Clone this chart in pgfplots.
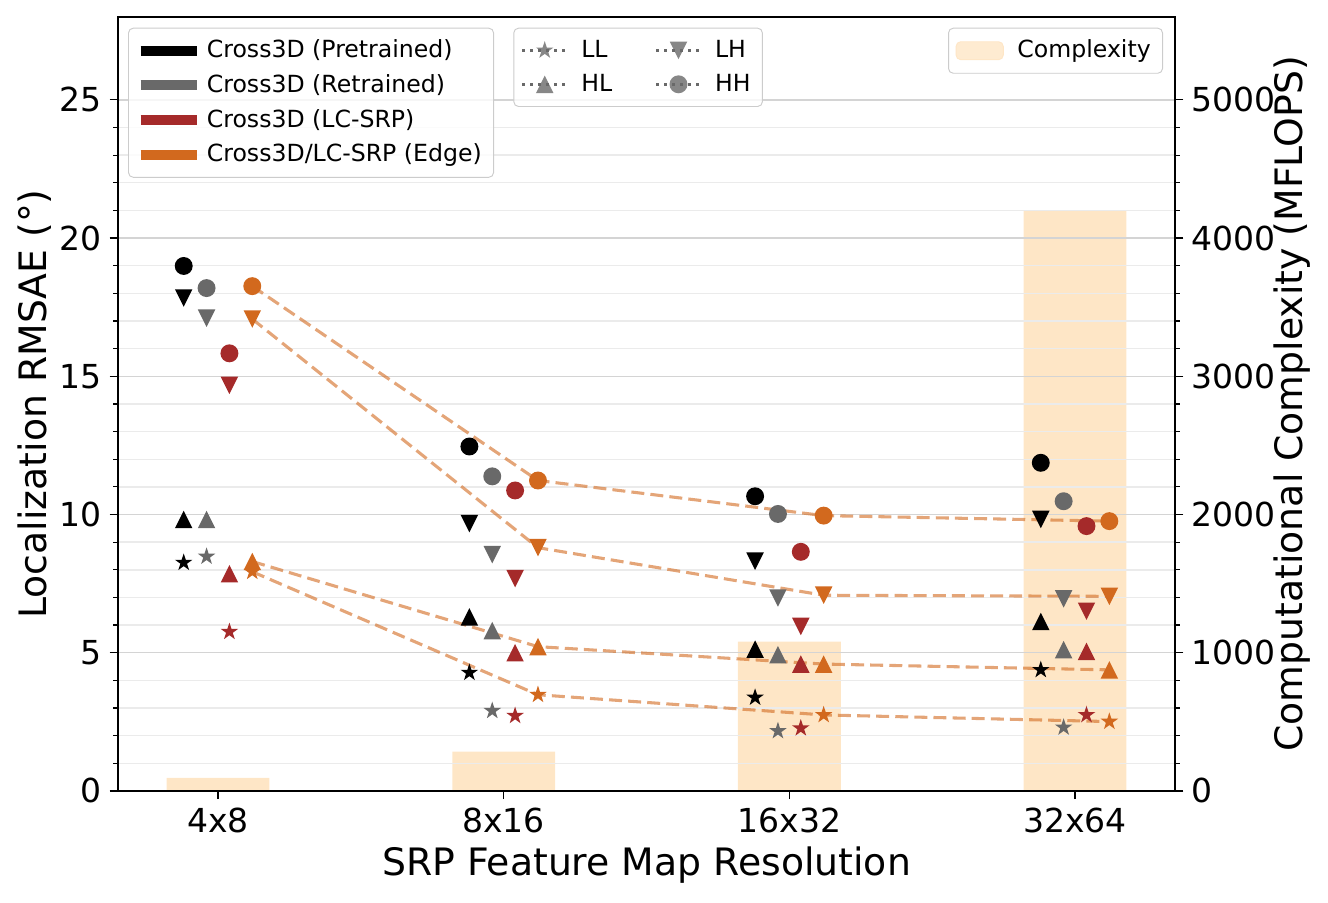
\documentclass[border=0pt]{standalone}
\usepackage{fontspec}
\setmainfont{DejaVu Sans}
\usepackage{pgfplots}
\pgfplotsset{compat=1.18}
\usepackage{pgfplotstable}

\definecolor{cgrey}{RGB}{105,105,105}
\definecolor{cred}{RGB}{165,42,42}
\definecolor{corange}{RGB}{210,105,30}
\definecolor{cpeach}{RGB}{254,230,198}

% matplotlib-like markers
\pgfdeclareplotmark{fstar}{%
  \pgfpathmoveto{\pgfqpointpolar{90}{\pgfplotmarksize}}%
  \pgfpathlineto{\pgfqpointpolar{126}{0.382\pgfplotmarksize}}%
  \pgfpathlineto{\pgfqpointpolar{162}{\pgfplotmarksize}}%
  \pgfpathlineto{\pgfqpointpolar{198}{0.382\pgfplotmarksize}}%
  \pgfpathlineto{\pgfqpointpolar{234}{\pgfplotmarksize}}%
  \pgfpathlineto{\pgfqpointpolar{270}{0.382\pgfplotmarksize}}%
  \pgfpathlineto{\pgfqpointpolar{306}{\pgfplotmarksize}}%
  \pgfpathlineto{\pgfqpointpolar{342}{0.382\pgfplotmarksize}}%
  \pgfpathlineto{\pgfqpointpolar{18}{\pgfplotmarksize}}%
  \pgfpathlineto{\pgfqpointpolar{54}{0.382\pgfplotmarksize}}%
  \pgfpathclose\pgfusepathqfill}
\pgfdeclareplotmark{tup}{%
  \pgfpathmoveto{\pgfqpoint{0pt}{\pgfplotmarksize}}%
  \pgfpathlineto{\pgfqpoint{-\pgfplotmarksize}{-\pgfplotmarksize}}%
  \pgfpathlineto{\pgfqpoint{\pgfplotmarksize}{-\pgfplotmarksize}}%
  \pgfpathclose\pgfusepathqfill}
\pgfdeclareplotmark{tdown}{%
  \pgfpathmoveto{\pgfqpoint{0pt}{-\pgfplotmarksize}}%
  \pgfpathlineto{\pgfqpoint{-\pgfplotmarksize}{\pgfplotmarksize}}%
  \pgfpathlineto{\pgfqpoint{\pgfplotmarksize}{\pgfplotmarksize}}%
  \pgfpathclose\pgfusepathqfill}
\pgfdeclareplotmark{fcirc}{%
  \pgfpathcircle{\pgfpointorigin}{\pgfplotmarksize}%
  \pgfusepathqfill}

% RMSAE per model: x = resolution index
\pgfplotstableread{
x LL   HL   LH    HH
0 8.26 9.82 17.83 18.99
1 4.28 6.30 9.67  12.46
2 3.38 5.13 8.31  10.66
3 4.38 6.13 9.82  11.87
}\pre
\pgfplotstableread{
x LL   HL   LH    HH
0 8.48 9.82 17.10 18.19
1 2.90 5.80 8.55  11.38
2 2.17 4.93 6.98  10.02
3 2.30 5.11 6.95  10.48
}\ret
\pgfplotstableread{
x LL   HL   LH    HH
0 5.76 7.86 14.67 15.83
1 2.72 5.00 7.68  10.87
2 2.27 4.59 5.95  8.65
3 2.75 5.05 6.50  9.58
}\lcsrp
\pgfplotstableread{
x LL   HL   LH    HH
0 7.93 8.30 17.07 18.26
1 3.48 5.22 8.80  11.23
2 2.75 4.59 7.08  9.96
3 2.51 4.38 7.04  9.76
}\edge
% complexity (MFLOPS)
\pgfplotstableread{
x c
0 95
1 285
2 1080
3 4200
}\cplx

\newcommand{\model}[3]{%
  \addplot[only marks, #2, mark=fstar, mark size=3.9pt, forget plot] table[x expr=\thisrow{x}+#3, y=LL]{#1};
  \addplot[only marks, #2, mark=tup, mark size=3.7pt, forget plot] table[x expr=\thisrow{x}+#3, y=HL]{#1};
  \addplot[only marks, #2, mark=tdown, mark size=3.7pt, forget plot] table[x expr=\thisrow{x}+#3, y=LH]{#1};
  \addplot[only marks, #2, mark=fcirc, mark size=3.8pt, forget plot] table[x expr=\thisrow{x}+#3, y=HH]{#1};
}
\newcommand{\edgeline}[1]{%
  \addplot[corange, draw opacity=0.6, line width=1.3pt, dash pattern=on 5.5pt off 2.6pt, no marks, forget plot] table[x expr=\thisrow{x}+0.12, y=#1]{\edge};
}

\pgfplotsset{
  base/.style={
    scale only axis, width=447.9pt, height=328pt,
    xmin=-0.35, xmax=3.35,
    tick align=outside,
    major tick length=3.5pt, minor tick length=2pt,
    every tick/.style={black, line width=0.5pt},
    axis line style={line width=0.6pt},
    /pgf/number format/assume math mode=true,
    /pgf/number format/1000 sep={},
    scaled y ticks=false,
    ticklabel style={font=\fontsize{14}{16}\selectfont},
    label style={font=\fontsize{16}{19}\selectfont},
    legend cell align=left,
    legend style={font=\fontsize{10}{12}\selectfont, draw=black!20, rounded corners=2pt,
      fill=white, fill opacity=0.8, text opacity=1, row sep=1.6pt, inner sep=3pt},
  },
  mleg/.style={cgrey, line width=1.2pt, dash pattern=on 1.2pt off 2.2pt,
    legend image code/.code={%
      \draw[##1, mark repeat=2, mark phase=2] plot coordinates {(0pt,0pt) (9.5pt,0pt) (19pt,0pt)};
      \path[draw=none] (19pt,0pt) -- (23pt,0pt);}},
}

\begin{document}
\begin{tikzpicture}
% right axis: complexity bars
\begin{axis}[base,
  ymin=0, ymax=5600, ytick={0,1000,...,5000}, minor y tick num=4,
  ytick pos=right, yticklabel pos=right, xtick=\empty,
  ylabel={Computational Complexity (MFLOPS)},
  ylabel style={at={(axis description cs:1.111,0.5)}, anchor=center},
  legend style={at={(0.9886,0.986)}, anchor=north east},
]
\addplot[ybar, bar width=0.36, fill=cpeach, draw=none, forget plot] table[x=x, y=c]{\cplx};
\addlegendimage{legend image code/.code={\fill[cpeach] (0pt,-3.8pt) rectangle (20pt,3.8pt); \path[draw=none] (20pt,0pt) -- (24pt,0pt);}}
\addlegendentry{Complexity}
\end{axis}

% left axis: RMSAE
\begin{axis}[base, name=lax,
  ymin=0, ymax=28, ytick={0,5,...,25}, minor y tick num=4,
  ytick pos=left, xtick pos=left,
  xtick={0,1,2,3}, xticklabels={4x8,8x16,16x32,32x64},
  ymajorgrids, yminorgrids,
  major grid style={black!17, line width=0.6pt},
  minor grid style={black!8, line width=0.6pt},
  ylabel={Localization RMSAE (°)},
  ylabel style={at={(axis description cs:-0.0785,0.5)}, anchor=center},
  xlabel={SRP Feature Map Resolution},
  xlabel style={at={(axis description cs:0.5,-0.0956)}, anchor=center},
  legend style={at={(0.0095,0.986)}, anchor=north west},
  legend image code/.code={\draw[#1, line width=4.2pt] (0pt,0pt) -- (24pt,0pt);},
]
\addlegendimage{black}
\addlegendentry{Cross3D (Pretrained)}
\addlegendimage{cgrey}
\addlegendentry{Cross3D (Retrained)}
\addlegendimage{cred}
\addlegendentry{Cross3D (LC-SRP)}
\addlegendimage{corange}
\addlegendentry{Cross3D/LC-SRP (Edge)}
\model{\pre}{black}{-0.12}
\model{\ret}{cgrey}{-0.04}
\model{\lcsrp}{cred}{0.04}
\model{\edge}{corange}{0.12}
\edgeline{LL}
\edgeline{HL}
\edgeline{LH}
\edgeline{HH}
\end{axis}

% marker legend
\begin{axis}[base, hide axis, ymin=0, ymax=28,
  legend columns=2,
  legend style={at={(0.374,0.986)}, anchor=north west, /tikz/column 2/.style={column sep=16pt}},
]
\addlegendimage{mleg, mark=fstar, mark size=3.9pt, mark options={solid}}
\addlegendentry{LL}
\addlegendimage{mleg, mark=tdown, mark size=3.7pt, mark options={solid}}
\addlegendentry{LH}
\addlegendimage{mleg, mark=tup, mark size=3.7pt, mark options={solid}}
\addlegendentry{HL}
\addlegendimage{mleg, mark=fcirc, mark size=3.8pt, mark options={solid}}
\addlegendentry{HH}
\end{axis}

\pgfresetboundingbox
\path (lax.south west) ++(-50pt,-47.45pt) rectangle ++(562.7pt,382.6pt);
\end{tikzpicture}
\end{document}
